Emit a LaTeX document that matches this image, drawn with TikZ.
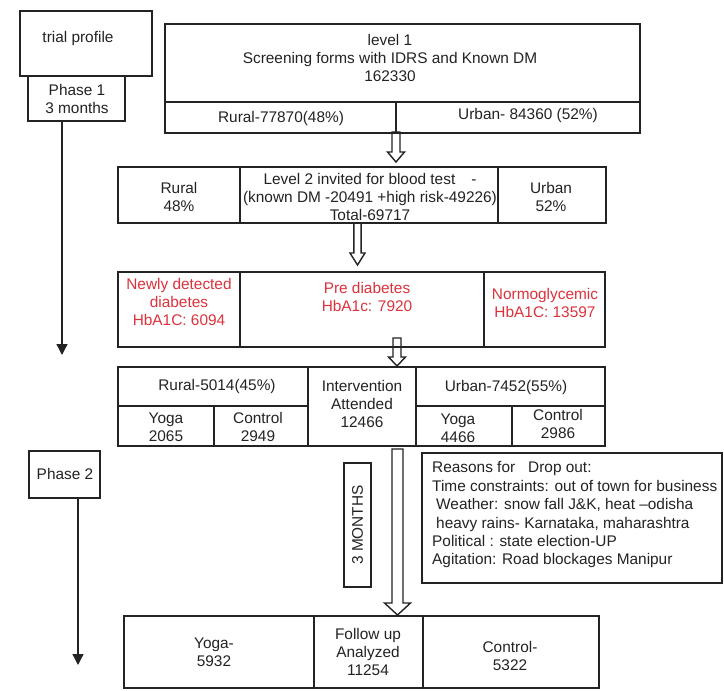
\documentclass[tikz,border=0pt]{standalone}
\usepackage{fontspec}
\setmainfont{Liberation Sans}
\usetikzlibrary{calc,arrows.meta,fit}
\definecolor{ink}{RGB}{35,35,35}
\definecolor{redtxt}{RGB}{220,50,60}
% #1 start (gives top y), #2 tip (gives x and tip y), #3 half shaft, #4 half head, #5 head length
\newcommand\hollowarrow[5]{%
  \filldraw[harr] let \p1=(#1), \p2=(#2) in
    (\x2-#3bp,\y1) -- (\x2-#3bp,\y2+#5bp) -- (\x2-#4bp,\y2+#5bp) -- (\x2,\y2)
    -- (\x2+#4bp,\y2+#5bp) -- (\x2+#3bp,\y2+#5bp) -- (\x2+#3bp,\y1) -- cycle;}
\begin{document}
\begin{tikzpicture}[x=1bp,y=-1bp,
  box/.style={draw=ink,line width=1.6bp,inner sep=0pt},
  txt/.style={font=\fontsize{15.4bp}{18.4bp}\selectfont,text=ink,align=center,inner sep=0pt},
  redt/.style={txt,text=redtxt},
  harr/.style={draw=ink,fill=white,line width=1.4bp,line join=miter},
  parrow/.style={draw=ink,line width=1.4bp,-{Triangle[length=11bp,width=11bp]}}]
\fill[white] (0,0) rectangle (724,691);
\useasboundingbox (0,0) rectangle (724,691);

% coordinates for arrows
\coordinate (a1e) at (396,162);
\coordinate (a2e) at (357.5,265);
\coordinate (a3s) at (397,338);
\coordinate (a3e) at (397,366);
\coordinate (a4s) at (397.5,449);
\coordinate (a4e) at (397.5,615);
\coordinate (p1end) at (62,355);
\coordinate (p2end) at (78,665);

% hollow arrows (drawn first, boxes on top)
\hollowarrow{396,132}{a1e}{4}{8.5}{10}
\hollowarrow{357.5,223}{a2e}{3.6}{7.5}{12}
\hollowarrow{a3s}{a3e}{4}{8.5}{9}
\hollowarrow{a4s}{a4e}{5.5}{13}{12}

% trial profile / phases
\node[box,fit={(20,11) (152,76)}] (trial) {};
\node[txt] (ttrial) at (78,39) {trial profile};
\node[box,fit={(28,76) (125,121)}] (phase1) {};
\node[txt] (tphase1) at (77,99) {Phase 1\\3 months};
\node[box,fit={(29,451) (100,498)}] (phase2) {};
\node[txt] (tphase2) at (65,474) {Phase 2};
\draw[parrow] (phase1.south -| p1end) -- (p1end);
\draw[parrow] (phase2.south -| p2end) -- (p2end);

% level 1
\node[box,fit={(165,24) (640,102)}] (l1) {};
\node[box,fit={(165,102) (396,133)}] (l1r) {};
\node[box,fit={(396,102) (640,133)}] (l1u) {};
\node[txt] (tl1) at (390,58) {level 1\\Screening forms with IDRS and Known DM\\162330};
\node[txt] (tl1r) at (281,119) {Rural-77870(48\%)};
\node[txt] (tl1u) at (528,116) {Urban- 84360 (52\%)};

% level 2
\node[box,fit={(118,167) (240,223)}] (l2a) {};
\node[box,fit={(240,167) (498,223)}] (l2b) {};
\node[box,fit={(498,167) (606,223)}] (l2c) {};
\node[txt] (tl2a) at (179,197) {Rural\\48\%};
\node[txt] (tl2b) at (370,197) {Level 2 invited for blood test\hspace{16bp}-\\(known DM -20491 +high risk-49226)\\Total-69717};
\node[txt] (tl2c) at (551,197) {Urban\\52\%};

% level 3
\node[box,fit={(118,272) (240,347)}] (l3a) {};
\node[box,fit={(240,272) (484,347)}] (l3b) {};
\node[box,fit={(484,272) (605,347)}] (l3c) {};
\node[redt] (tl3a) at (179,302) {Newly detected\\diabetes\\HbA1C: 6094};
\node[redt] (tl3b) at (367,297) {Pre diabetes\\HbA1c: 7920};
\node[redt] (tl3c) at (545,303) {Normoglycemic\\HbA1C: 13597};

% level 4
\node[box,fit={(118,367) (308,406)}] (l4r) {};
\node[box,fit={(118,406) (214,446)}] (l4ry) {};
\node[box,fit={(214,406) (308,446)}] (l4rc) {};
\node[box,fit={(308,367) (416,446)}] (l4m) {};
\node[box,fit={(416,367) (605,406)}] (l4u) {};
\node[box,fit={(416,406) (512,446)}] (l4uy) {};
\node[box,fit={(512,406) (605,446)}] (l4uc) {};
\node[txt] (tl4r) at (217,387) {Rural-5014(45\%)};
\node[txt] (tl4ry) at (166,427) {Yoga\\2065};
\node[txt] (tl4rc) at (258,427) {Control\\2949};
\node[txt] (tl4m) at (362,404) {Intervention\\Attended\\12466};
\node[txt] (tl4u) at (506,388) {Urban-7452(55\%)};
\node[txt] (tl4uy) at (458,428) {Yoga\\4466};
\node[txt] (tl4uc) at (558,424) {Control\\2986};

% 3 months
\node[box,fit={(344,463) (371,587)}] (m3) {};
\node[txt,rotate=90] (tm3) at (357.5,525) {3 MONTHS};

% reasons
\node[box,fit={(422,453) (722,583)}] (reasons) {};
\node[txt,align=left,anchor=north west] (treasons) at (432,461.5) {Reasons for\hspace{13bp}Drop out:\\
Time constraints: out of town for business\\
\hspace*{4bp}Weather: snow fall J\&K, heat –odisha\\
\hspace*{4bp}heavy rains- Karnataka, maharashtra\\
Political : state election-UP\\
Agitation: Road blockages Manipur};

% bottom
\node[box,fit={(124,616) (314,688)}] (b1) {};
\node[box,fit={(314,616) (423,688)}] (b2) {};
\node[box,fit={(423,616) (599,688)}] (b3) {};
\node[txt] (tb1) at (214,652) {Yoga-\\5932};
\node[txt] (tb2) at (368,652) {Follow up\\Analyzed\\11254};
\node[txt] (tb3) at (510,656) {Control-\\5322};
\end{tikzpicture}
\end{document}
